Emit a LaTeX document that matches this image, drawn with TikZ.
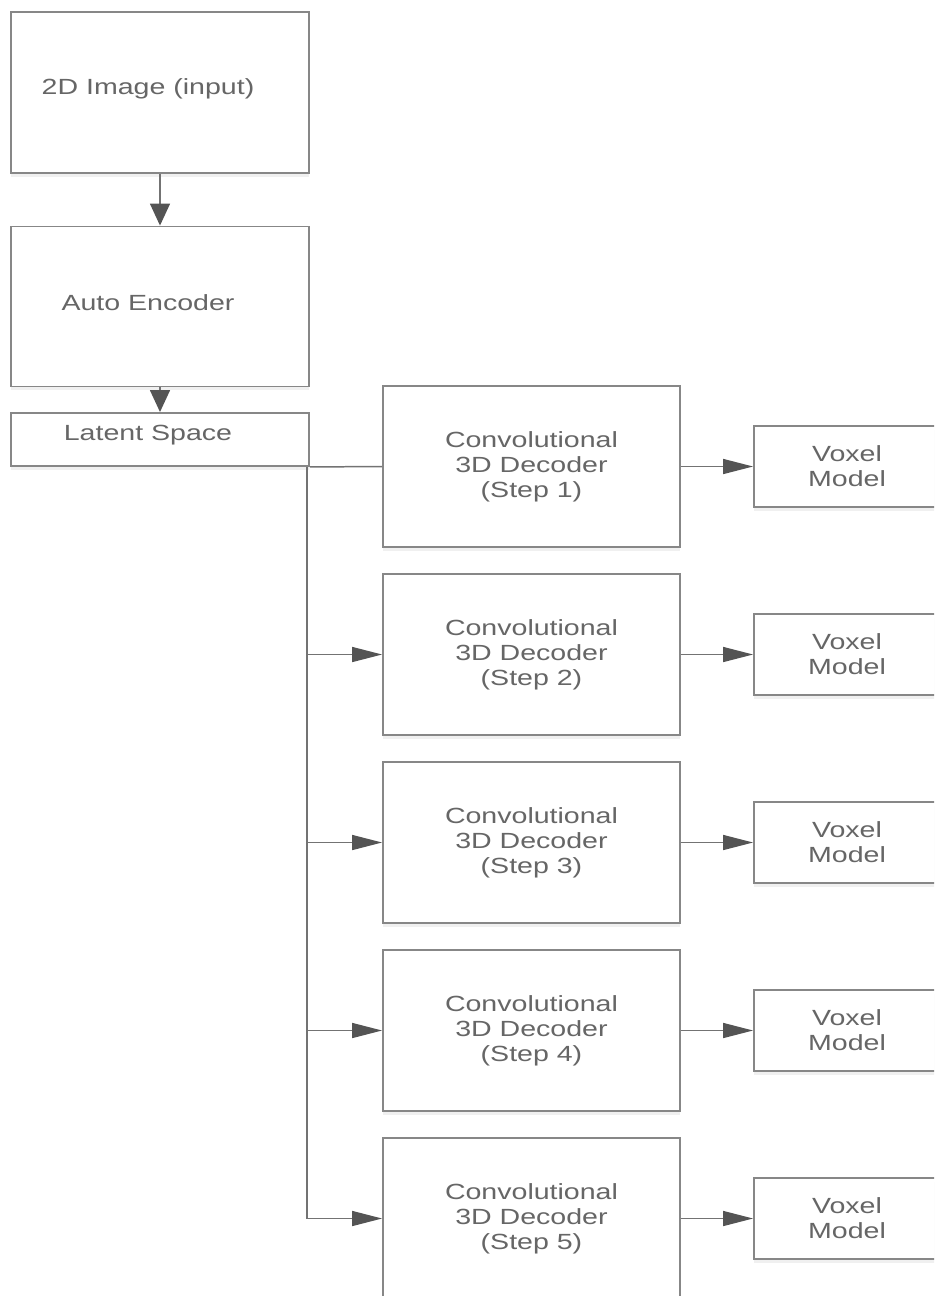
\documentclass[tikz,border=0pt]{standalone}
\usepackage{fontspec}
\setmainfont{Liberation Sans}[FakeStretch=1.3]
\usepackage{tikz}
\usetikzlibrary{arrows.meta,positioning,shadows}
\definecolor{boxgray}{rgb}{0.53,0.53,0.53}
\definecolor{linegray}{rgb}{0.45,0.45,0.45}
\definecolor{tipgray}{rgb}{0.33,0.33,0.33}
\definecolor{textgray}{rgb}{0.40,0.40,0.40}
\tikzset{
  flowbox/.style={draw=boxgray, line width=1.1pt, fill=white, inner sep=0pt,
    text=textgray, align=center,
    drop shadow={shadow xshift=0pt, shadow yshift=-0.08cm, opacity=0.12}},
  boxtext/.style={text=textgray, xshift=-0.24cm, yshift=0.08cm},
  linkline/.style={draw=linegray, line width=0.85pt},
  rightarrow/.style={linkline, -{Triangle[length=0.6cm, width=0.3cm, color=tipgray]}},
  downarrow/.style={linkline, -{Triangle[length=0.44cm, width=0.4cm, color=tipgray]}}
}
\begin{document}
\begin{tikzpicture}[x=0.02cm, y=-0.02cm, font=\fontsize{12.5}{14.2}\selectfont]
    \useasboundingbox (0,0) rectangle (934,1296);
    \clip (0,0) rectangle (934,1296);

    % encoder column
    \node[flowbox, minimum width=5.96cm, minimum height=3.22cm,
          label={[boxtext]center:2D Image (input)}] (img) at (160,92.5) {};
    \node[flowbox, minimum width=5.96cm, minimum height=3.2cm,
          label={[boxtext]center:Auto Encoder}] (enc) at (160,306.5) {};
    \node[flowbox, minimum width=5.96cm, minimum height=1.06cm,
          label={[boxtext]center:Latent Space}] (lat) at (160,439.5) {};
    \draw[downarrow] (img) -- (enc);
    \draw[downarrow] (enc) -- (lat);

    % decoder steps and voxel outputs
    \foreach \i in {1,...,5}{
      \pgfmathsetmacro{\yy}{466.5+188*(\i-1)}
      \node[flowbox, minimum width=5.94cm, minimum height=3.22cm] (dec\i) at (531.5,\yy)
        {Convolutional\\3D Decoder\\(Step \i)};
      \node[flowbox, minimum width=3.72cm, minimum height=1.62cm] (vox\i) at (847,\yy)
        {Voxel\\Model};
      \draw[rightarrow] (dec\i) -- (vox\i);
    }

    % latent space feeding the decoders
    \coordinate (bus) at (307,466.5);
    \draw[linkline] (lat.south east) -- (dec1.west);
    \draw[linkline] (bus) -- (bus |- dec5.west);
    \foreach \i in {2,...,5}
      \draw[rightarrow] (bus |- dec\i.west) -- (dec\i.west);
\end{tikzpicture}
\end{document}
